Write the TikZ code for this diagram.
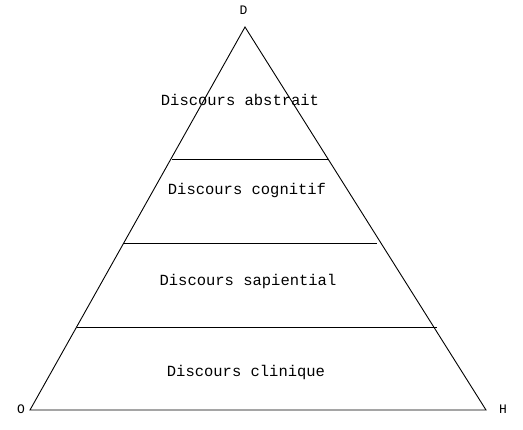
\documentclass[tikz,border=0pt]{standalone}
\usepackage{fontspec}
\setmonofont{Liberation Mono}
\begin{document}
\begin{tikzpicture}[x=1pt,y=-1pt,
  lbl/.style={font=\ttfamily\fontsize{15.5}{17}\selectfont, inner sep=0pt},
  vtx/.style={font=\ttfamily\fontsize{13}{15}\selectfont, inner sep=0pt},
  edge/.style={draw=black, line width=0.9pt}]
\useasboundingbox (0,0) rectangle (523,430);
\coordinate (top) at (245,27);
\coordinate (bl) at (30,410);
\coordinate (br) at (486,410);
\draw[edge] (top) -- (bl) -- (br) -- cycle;
\coordinate (l1a) at (172,159); \coordinate (l1b) at (329,159);
\coordinate (l2a) at (124,243); \coordinate (l2b) at (377,243);
\coordinate (l3a) at (77,327);  \coordinate (l3b) at (437,327);
\draw[edge] (l1a) -- (l1b);
\draw[edge] (l2a) -- (l2b);
\draw[edge] (l3a) -- (l3b);
\node[vtx] (D) at (243.5,10) {D};
\node[vtx] (O) at (21,409) {O};
\node[vtx] (H) at (503,409) {H};
\node[lbl] (t1) at (240,100) {Discours abstrait};
\node[lbl] (t2) at (247,190) {Discours cognitif};
\node[lbl] (t3) at (248,281) {Discours sapiential};
\node[lbl] (t4) at (246,372) {Discours clinique};
\end{tikzpicture}
\end{document}
